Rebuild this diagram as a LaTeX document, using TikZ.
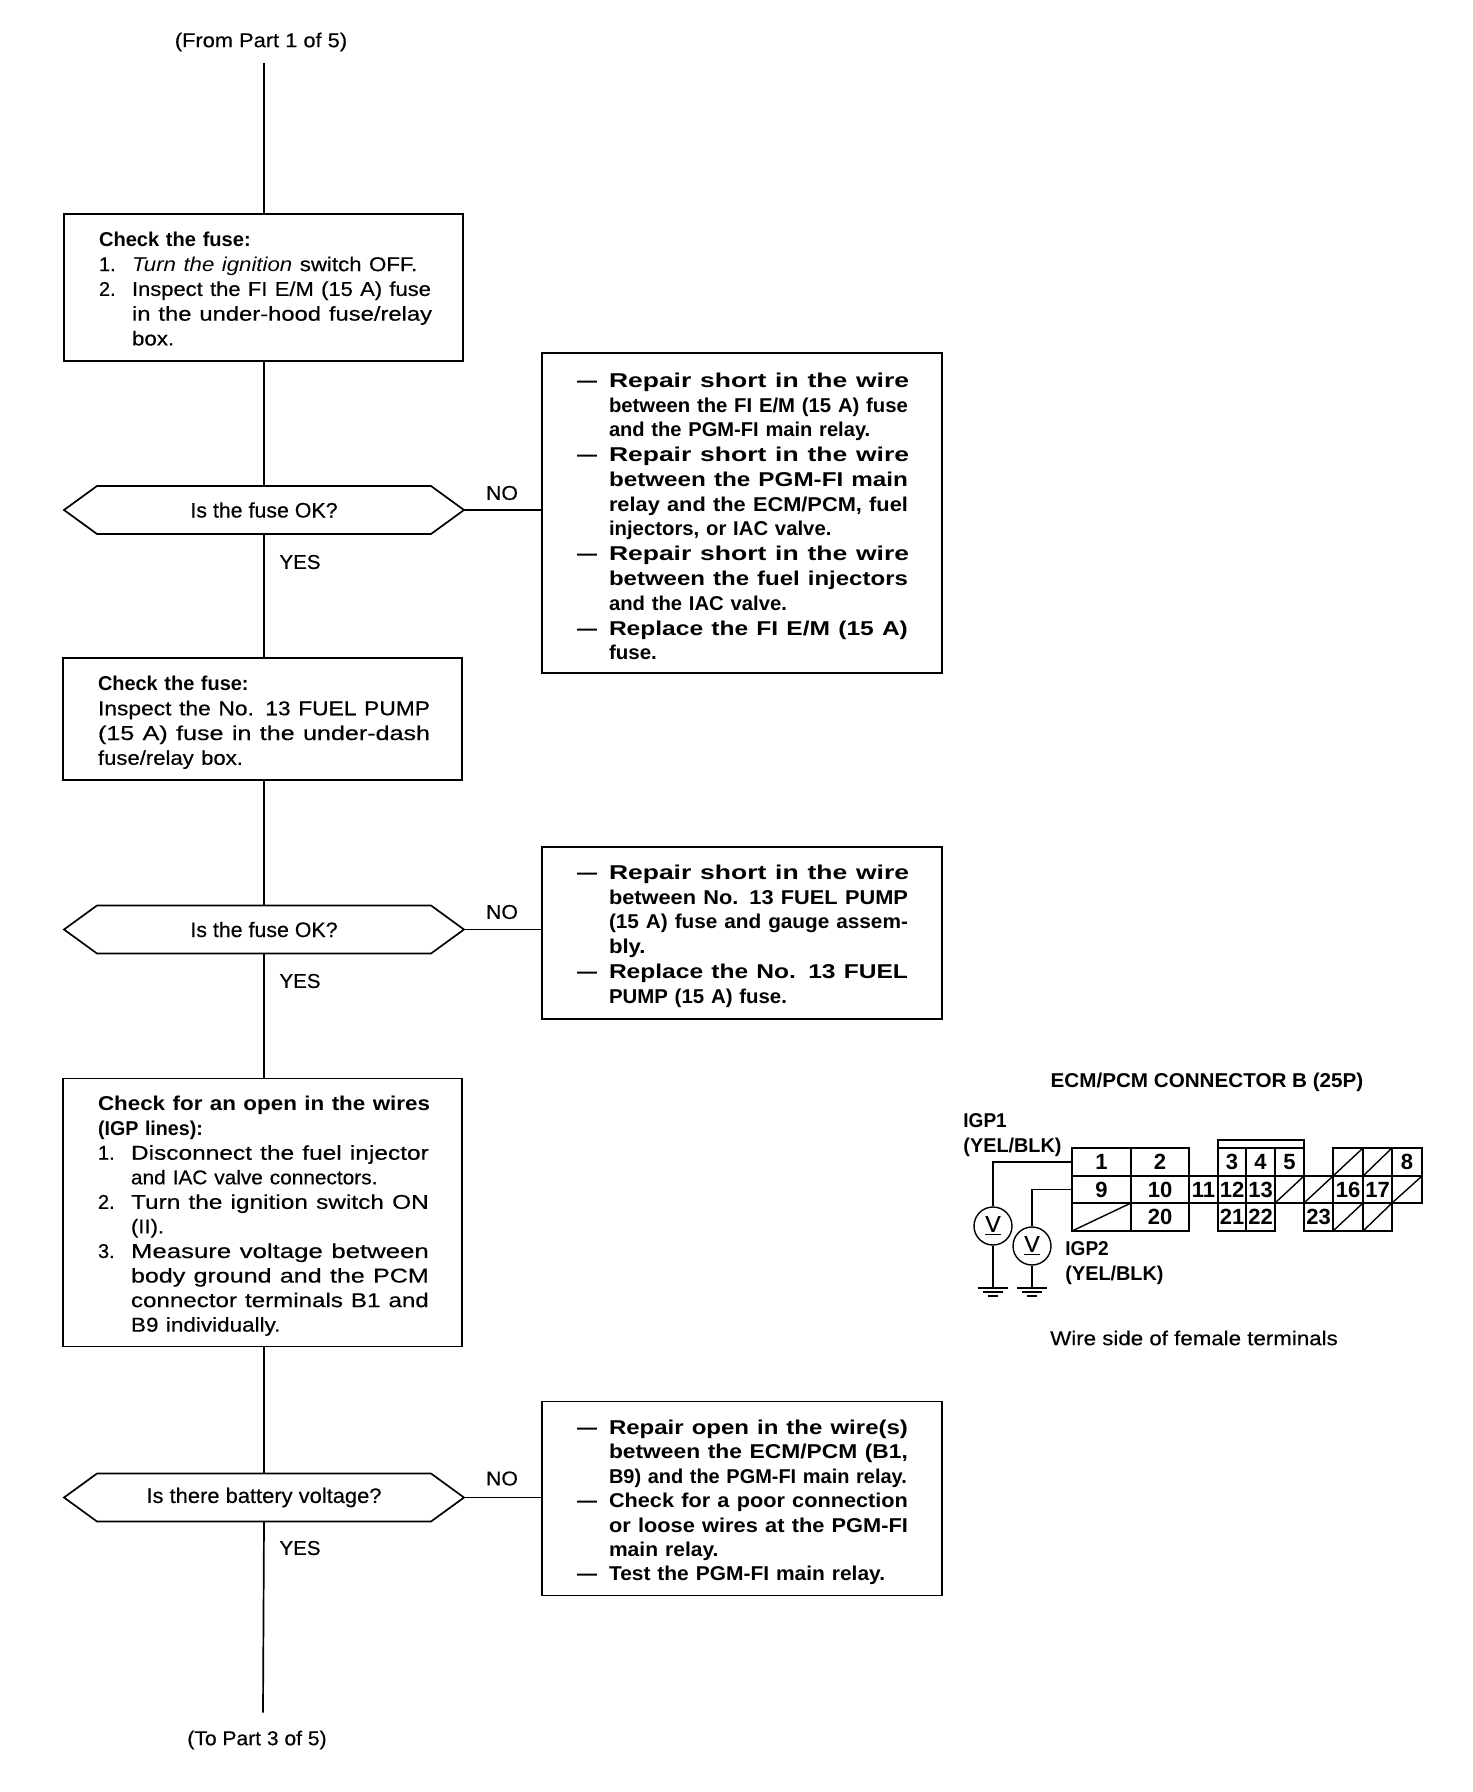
\documentclass[tikz,border=0pt]{standalone}
\usepackage{fontspec}
\usepackage{graphicx}
\setmainfont{Liberation Sans}[UprightFeatures={FakeBold=0.35}]
\newlength\fitw
\newcommand\fitl[2]{\setlength\fitw{#1pt}\setlength\fitw{0.5705\fitw}\resizebox{\fitw}{\height}{#2}}
\newcommand\numl[3]{\makebox[16.5pt][l]{#1}\fitl{#2}{#3}}
\newcommand\indl[2]{\hspace*{16.5pt}\fitl{#1}{#2}}
\newcommand\dashl[2]{\makebox[16pt][l]{---}\fitl{#1}{#2}}
\newcommand\subl[2]{\hspace*{16pt}\fitl{#1}{#2}}
\newcommand\hexdraw[1]{\draw[lw] (#1.west) -- ([xshift=16.5pt]#1.north west) -- ([xshift=-16.5pt]#1.north east) -- (#1.east) -- ([xshift=-16.5pt]#1.south east) -- ([xshift=16.5pt]#1.south west) -- cycle;}
\newcommand\cellb[6]{\node[cellbox,minimum width={(#4-#2)*0.5pt},minimum height={(#5-#3)*0.5pt}] (#1) at ({(#2+#4)/2},{(#3+#5)/2}) {#6};}
\newcommand\celld[4]{\draw[thin line] (#1,#2) rectangle (#3,#4); \draw[thin line] (#1,#4) -- (#3,#2);}
\newcommand\gndmark[1]{\draw[thin line] ([xshift=-7.5pt]#1) -- ([xshift=7.5pt]#1) ([xshift=-5pt,yshift=-2pt]#1) -- ([xshift=5pt,yshift=-2pt]#1) ([xshift=-2.5pt,yshift=-4pt]#1) -- ([xshift=2.5pt,yshift=-4pt]#1);}
\tikzset{
  lw/.style={line width=0.85pt},
  thin line/.style={line width=0.7pt},
  thick line/.style={line width=1.4pt},
  flowbox/.style={draw,lw,rectangle,anchor=north west,inner xsep=17.5pt,inner ysep=0pt,outer sep=0pt,text width=164.5pt,align=left,font=\fontsize{10}{12.38}\selectfont},
  fixbox/.style={flowbox,text width=165pt,font=\fontsize{10}{12.38}\selectfont\bfseries},
  tdown/.style={execute at begin node={\rule{0pt}{\dimexpr7.3pt+#1\relax}}},
  hexnode/.style={rectangle,inner sep=0pt,outer sep=0pt,minimum width=200pt,minimum height=24pt,font=\fontsize{10.5}{12}\selectfont},
  lab/.style={inner sep=0pt,font=\fontsize{10}{12}\selectfont},
  cellbox/.style={draw,thin line,inner sep=0pt,outer sep=0pt,font=\fontsize{11}{12}\selectfont\bfseries},
  meter/.style={circle,draw,thin line,minimum size=19pt,inner sep=0pt,font=\fontsize{11.5}{12}\selectfont},
}
\begin{document}
\begin{tikzpicture}[x=0.5pt,y=-0.5pt]
\path[fill=white,use as bounding box] (0,0) rectangle (1472,1792);

\node[lab] (from) at (261,42) {\fitl{151}{(From Part 1 of 5)}};
\coordinate (top) at (264,63);
\node[flowbox,minimum height=73.5pt,tdown=1.2pt] (b1) at (64,214) {\fitl{133}{\bfseries Check the fuse:}\\
\numl{1.}{250}{\itshape Turn the ignition \upshape switch OFF.}\\
\numl{2.}{262}{Inspect the FI E/M (15 A) fuse}\\
\indl{263}{in the under-hood fuse/relay}\\
\indl{37}{box.}};
\node[hexnode] (d1) at (264,510) {\fitl{129}{Is the fuse OK?}};
\hexdraw{d1}
\node[lab] (no1) at (502,493) {\fitl{28}{NO}};
\node[lab] (yes1) at (300,562) {\fitl{36}{YES}};
\node[fixbox,minimum height=160pt,tdown=3.4pt] (r1) at (542,353) {\dashl{263}{Repair short in the wire}\\
\subl{262}{between the FI E/M (15 A) fuse}\\
\subl{229}{and the PGM-FI main relay.}\\
\dashl{263}{Repair short in the wire}\\
\subl{262}{between the PGM-FI main}\\
\subl{262}{relay and the ECM/PCM, fuel}\\
\subl{195}{injectors, or IAC valve.}\\
\dashl{263}{Repair short in the wire}\\
\subl{262}{between the fuel injectors}\\
\subl{156}{and the IAC valve.}\\
\dashl{262}{Replace the FI E/M (15 A)}\\
\subl{42}{fuse.}};

\node[flowbox,minimum height=61pt,tdown=3.4pt] (b2) at (63,658) {\fitl{132}{\bfseries Check the fuse:}\\
\fitl{291}{Inspect the No. 13 FUEL PUMP}\\
\fitl{291}{(15 A) fuse in the under-dash}\\
\fitl{127}{fuse/relay box.}};
\node[hexnode] (d2) at (264,929.5) {\fitl{129}{Is the fuse OK?}};
\hexdraw{d2}
\node[lab] (no2) at (502,912) {\fitl{28}{NO}};
\node[lab] (yes2) at (300,981) {\fitl{36}{YES}};
\node[fixbox,minimum height=86pt,tdown=3pt] (r2) at (542,847) {\dashl{263}{Repair short in the wire}\\
\subl{262}{between No. 13 FUEL PUMP}\\
\subl{262}{(15 A) fuse and gauge assem-}\\
\subl{32}{bly.}\\
\dashl{262}{Replace the No. 13 FUEL}\\
\subl{156}{PUMP (15 A) fuse.}};

\node[flowbox,minimum height=134pt,tdown=3.4pt,font=\fontsize{10}{12.28}\selectfont] (b3) at (63,1078.5) {\fitl{291}{\bfseries Check for an open in the wires}\\
\fitl{92}{\bfseries (IGP lines):}\\
\numl{1.}{261}{Disconnect the fuel injector}\\
\indl{216}{and IAC valve connectors.}\\
\numl{2.}{261}{Turn the ignition switch ON}\\
\indl{29}{(II).}\\
\numl{3.}{261}{Measure voltage between}\\
\indl{261}{body ground and the PCM}\\
\indl{261}{connector terminals B1 and}\\
\indl{131}{B9 individually.}};
\node[hexnode] (d3) at (264,1497.5) {\fitl{206}{Is there battery voltage?}};
\hexdraw{d3}
\node[lab] (no3) at (502,1478.5) {\fitl{28}{NO}};
\node[lab] (yes3) at (300,1548) {\fitl{36}{YES}};
\node[fixbox,minimum height=97pt,tdown=4pt,font=\fontsize{10}{12.2}\selectfont\bfseries] (r3) at (542,1401.5) {\dashl{262}{Repair open in the wire(s)}\\
\subl{262}{between the ECM/PCM (B1,}\\
\subl{261}{B9) and the PGM-FI main relay.}\\
\dashl{262}{Check for a poor connection}\\
\subl{262}{or loose wires at the PGM-FI}\\
\subl{96}{main relay.}\\
\dashl{242}{Test the PGM-FI main relay.}};

\coordinate (bot) at (263,1712.5);
\node[lab] (to) at (257,1740) {\fitl{122}{(To Part 3 of 5)}};

\draw[lw] (top) -- (top |- b1.north);
\draw[lw] (b1.south -| d1.north) -- (d1.north);
\draw[lw] (d1.south) -- (d1.south |- b2.north);
\draw[lw] (b2.south -| d2.north) -- (d2.north);
\draw[lw] (d2.south) -- (d2.south |- b3.north);
\draw[lw] (b3.south -| d3.north) -- (d3.north);
\draw[lw] (d3.south) -- (bot);
\draw[lw] (d1.east) -- (d1.east -| r1.west);
\draw[lw] (d2.east) -- (d2.east -| r2.west);
\draw[lw] (d3.east) -- (d3.east -| r3.west);

% connector
\node[lab,font=\fontsize{10}{12}\selectfont\bfseries] (ctitle) at (1207,1082) {\fitl{274}{ECM/PCM CONNECTOR B (25P)}};
\node[lab,anchor=north west,align=left,font=\fontsize{10}{12.5}\selectfont\bfseries] (igp1) at (963,1113) {\fitl{38}{IGP1}\\\fitl{86}{(YEL/BLK)}};
\node[lab,anchor=north west,align=left,font=\fontsize{10}{12.5}\selectfont\bfseries] (igp2) at (1065,1241) {\fitl{38}{IGP2}\\\fitl{86}{(YEL/BLK)}};
\node[lab] (wside) at (1194,1338) {\fitl{252}{Wire side of female terminals}};

\cellb{c1}{1072}{1148}{1131}{1176}{1}
\cellb{c2}{1131}{1148}{1189}{1176}{2}
\cellb{c9}{1072}{1176}{1131}{1203}{9}
\cellb{c10}{1131}{1176}{1189}{1203}{10}
\celld{1072}{1203}{1131}{1231}
\cellb{c20}{1131}{1203}{1189}{1231}{20}
\cellb{c11}{1189}{1176}{1218}{1203}{11}
\cellb{c3}{1218}{1148}{1246}{1176}{3}
\cellb{c4}{1246}{1148}{1275}{1176}{4}
\cellb{c5}{1275}{1148}{1304}{1176}{5}
\cellb{c12}{1218}{1176}{1246}{1203}{12}
\cellb{c13}{1246}{1176}{1275}{1203}{13}
\celld{1275}{1176}{1304}{1203}
\celld{1304}{1176}{1333}{1203}
\cellb{c21}{1218}{1203}{1246}{1231}{21}
\cellb{c22}{1246}{1203}{1275}{1231}{22}
\celld{1333}{1148}{1363}{1176}
\celld{1363}{1148}{1392}{1176}
\cellb{c8}{1392}{1148}{1422}{1176}{8}
\cellb{c16}{1333}{1176}{1363}{1203}{16}
\cellb{c17}{1363}{1176}{1392}{1203}{17}
\celld{1392}{1176}{1422}{1203}
\cellb{c23}{1304}{1203}{1333}{1231}{23}
\celld{1333}{1203}{1363}{1231}
\celld{1363}{1203}{1392}{1231}

\draw[thick line] (1072,1148) rectangle (1189,1231);
\draw[thick line] (1072,1176) -- (1189,1176) (1189,1176) -- (1333,1176) (1072,1203) -- (1275,1203);
\draw[thick line] (1218,1231) -- (1218,1140) -- (1304,1140) -- (1304,1176);
\draw[thick line] (1218,1231) -- (1275,1231) -- (1275,1203);
\draw[thick line] (1333,1176) -- (1333,1148) -- (1422,1148) -- (1422,1203) -- (1392,1203) -- (1392,1231) -- (1304,1231) -- (1304,1203) -- (1392,1203);

\node[meter] (v1) at (993,1226) {\underline{V}};
\node[meter] (v2) at (1032,1246) {\underline{V}};
\coordinate (g1) at (993,1288);
\coordinate (g2) at (1032,1288);
\draw[thin line] (c1.west) -| (v1.north);
\draw[thin line] (c9.west) -| (v2.north);
\draw[thin line] (v1.south) -- (g1);
\draw[thin line] (v2.south) -- (g2);
\gndmark{g1}
\gndmark{g2}
\end{tikzpicture}
\end{document}
